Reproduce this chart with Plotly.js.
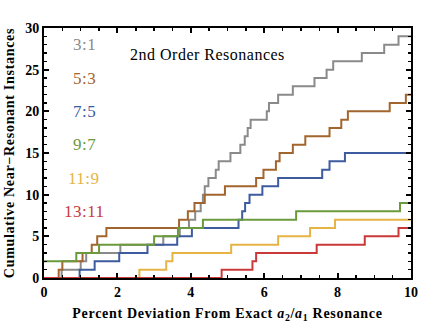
<!DOCTYPE html>
<html>
<head>
<meta charset="utf-8">
<script src="https://cdn.plot.ly/plotly-3.0.1.min.js"></script>
<style>
  body { margin: 0; background: #fff; }
  #chart { width: 436px; height: 327px; }
  .g-xtitle text, .g-ytitle text { letter-spacing: 0.7px; }
  .annotation-text { letter-spacing: 0.5px; }
</style>
</head>
<body>
<div id="chart"></div>
<script>
// Resonance labels and colours
const labels = ["3:1", "5:3", "7:5", "9:7", "11:9", "13:11"];
const colors = ["#8a8a8a", "#a3652e", "#3d5b9e", "#6b9a3c", "#e6b445", "#c9393a"];

// Percent deviation at which each cumulative count steps up by one
const jumps31 = [0.48, 1.0, 1.15, 2.08, 3.25, 3.7, 3.95, 4.12, 4.27, 4.33, 4.38, 4.48, 4.68, 4.76,
                 5.08, 5.35, 5.47, 5.55, 5.63, 6.07, 6.13, 6.38, 6.78, 7.37, 7.7, 7.88, 8.66, 9.27, 9.66];
const jumps53 = [0.4, 0.5, 1.05, 1.3, 1.45, 1.7, 3.68, 3.92, 4.1, 4.38, 4.93, 5.78, 5.98, 6.32,
                 6.42, 6.78, 7.12, 7.78, 8.1, 8.28, 9.42, 9.86];
const jumps75 = [0.97, 1.38, 2.05, 2.82, 3.63, 4.03, 5.3, 5.4, 5.48, 5.6, 5.95, 6.38, 7.58, 7.78, 8.2];
const jumps97 = [0.88, 1.5, 3.0, 3.65, 4.33, 6.87, 9.7];
const jumps119 = [2.6, 3.33, 3.5, 5.1, 6.38, 7.25, 7.93];
const jumps1311 = [4.84, 5.68, 5.78, 7.43, 8.74, 9.66];

// count at zero deviation
const startCounts = [0, 0, 0, 2, 0, 0];

const allJumps = [jumps31, jumps53, jumps75, jumps97, jumps119, jumps1311];
const xMax = 10;

// build step curves
const traces = allJumps.map((jumps, i) => {
    const x = [0];
    const y = [startCounts[i]];
    let n = startCounts[i];
    jumps.forEach((j) => {
        n += 1;
        x.push(j);
        y.push(n);
    });
    x.push(xMax);
    y.push(n);
    return {
        x: x,
        y: y,
        type: "scatter",
        mode: "lines",
        name: labels[i],
        line: { color: colors[i], width: 2, shape: "hv" },
        hoverinfo: "skip",
    };
});

const serif = "Times New Roman, Liberation Serif, serif";

// legend written as coloured text inside the frame
const labelY = [28, 24, 20, 16, 12, 8];
const annotations = labels.map((t, i) => ({
    x: 1.1,
    y: labelY[i],
    xref: "x",
    yref: "y",
    text: t,
    showarrow: false,
    font: { family: serif, size: 17, color: colors[i] },
}));
annotations.push({
    x: 4.45,
    y: 26.8,
    xref: "x",
    yref: "y",
    text: "2nd Order Resonances",
    showarrow: false,
    font: { family: serif, size: 16, color: "#000" },
});

const layout = {
    width: 436,
    height: 327,
    margin: { l: 44, r: 25, t: 28, b: 49 },
    paper_bgcolor: "#fff",
    plot_bgcolor: "#fff",
    showlegend: false,
    font: { family: serif, color: "#000" },
    xaxis: {
        range: [0, 10],
        tickvals: [0, 2, 4, 6, 8, 10],
        ticks: "inside",
        ticklen: 5,
        tickwidth: 2,
        tickcolor: "#000",
        minor: { dtick: 0.5, ticks: "inside", ticklen: 3, tickwidth: 1.5, tickcolor: "#000" },
        showline: true,
        linewidth: 2,
        linecolor: "#000",
        mirror: "allticks",
        showgrid: false,
        zeroline: false,
        tickfont: { family: serif, size: 14, weight: "bold" },
        title: {
            text: "Percent Deviation From Exact <i>a</i><sub>2</sub>/<i>a</i><sub>1</sub> Resonance",
            font: { family: serif, size: 14, weight: "bold" },
            standoff: 9,
        },
    },
    yaxis: {
        range: [0, 30],
        tickvals: [0, 5, 10, 15, 20, 25, 30],
        ticks: "inside",
        ticklen: 5,
        tickwidth: 2,
        tickcolor: "#000",
        minor: { dtick: 1, ticks: "inside", ticklen: 3, tickwidth: 1.5, tickcolor: "#000" },
        showline: true,
        linewidth: 2,
        linecolor: "#000",
        mirror: "allticks",
        showgrid: false,
        zeroline: false,
        tickfont: { family: serif, size: 14, weight: "bold" },
        title: {
            text: "Cumulative Near\u2212Resonant Instances",
            font: { family: serif, size: 14, weight: "bold" },
            standoff: 7,
        },
    },
    annotations: annotations,
};

Plotly.newPlot("chart", traces, layout, { staticPlot: true, displayModeBar: false });
</script>
</body>
</html>
